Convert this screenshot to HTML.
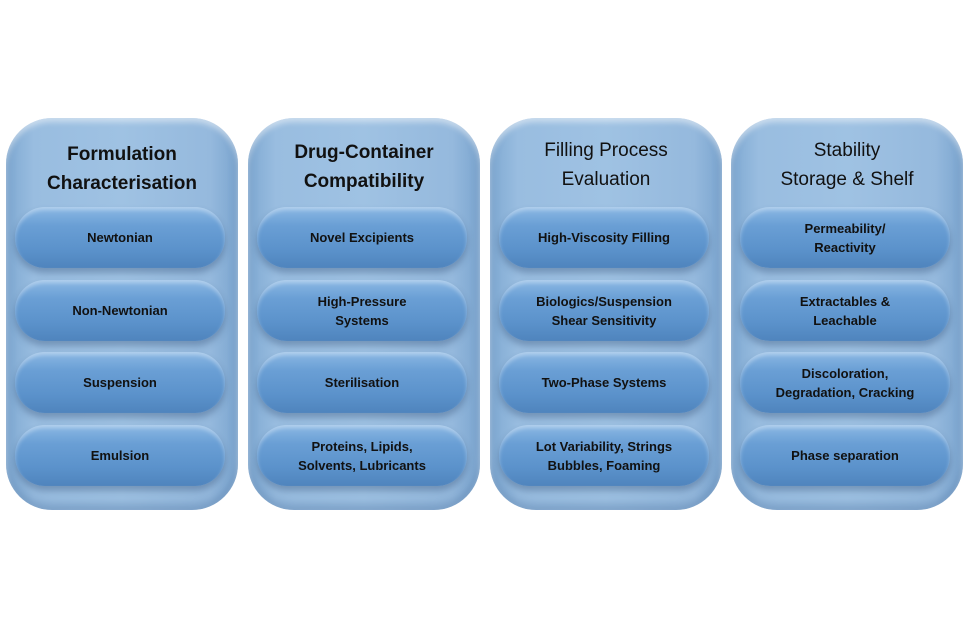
<!DOCTYPE html>
<html><head><style>
body{margin:0;width:974px;height:626px;background:#fff;position:relative;overflow:hidden;font-family:"Liberation Sans",sans-serif}
.col{position:absolute;top:118px;width:232px;height:392px;border-radius:46px;
background:linear-gradient(90deg,#7fa9d2 0%,#99bde0 12%,#9fc2e3 50%,#95b9dd 88%,#7ba5cf 100%);
box-shadow:inset 0 4px 6px rgba(255,255,255,.5),inset 0 -6px 10px rgba(60,100,150,.35)}
.t{position:absolute;top:22px;left:0;width:100%;text-align:center;font-size:19px;font-weight:bold;line-height:29px;color:#111}
.p{position:absolute;left:9px;width:210px;height:61px;border-radius:30px;
background:linear-gradient(180deg,#8bb8e4 0%,#6a9fd5 30%,#5b92cb 70%,#4f84bd 100%);
box-shadow:0 5px 7px rgba(40,70,110,.35),inset 0 3px 4px rgba(255,255,255,.35);
display:flex;align-items:center;justify-content:center;text-align:center;font-size:13px;font-weight:bold;line-height:19px;color:#111}
</style></head><body>
<div class="col" style="left:6px"><div class="t">Formulation<br>Characterisation</div>
<div class="p" style="top:89px">Newtonian</div>
<div class="p" style="top:162px">Non-Newtonian</div>
<div class="p" style="top:234px">Suspension</div>
<div class="p" style="top:307px">Emulsion</div></div>
<div class="col" style="left:248px"><div class="t" style="top:20px">Drug-Container<br>Compatibility</div>
<div class="p" style="top:89px">Novel Excipients</div>
<div class="p" style="top:162px">High-Pressure<br>Systems</div>
<div class="p" style="top:234px">Sterilisation</div>
<div class="p" style="top:307px">Proteins, Lipids,<br>Solvents, Lubricants</div></div>
<div class="col" style="left:490px"><div class="t" style="top:18px;font-weight:normal">Filling Process<br>Evaluation</div>
<div class="p" style="top:89px">High-Viscosity Filling</div>
<div class="p" style="top:162px">Biologics/Suspension<br>Shear Sensitivity</div>
<div class="p" style="top:234px">Two-Phase Systems</div>
<div class="p" style="top:307px">Lot Variability, Strings<br>Bubbles, Foaming</div></div>
<div class="col" style="left:731px"><div class="t" style="top:18px;font-weight:normal">Stability<br>Storage &amp; Shelf</div>
<div class="p" style="top:89px">Permeability/<br>Reactivity</div>
<div class="p" style="top:162px">Extractables &amp;<br>Leachable</div>
<div class="p" style="top:234px">Discoloration,<br>Degradation, Cracking</div>
<div class="p" style="top:307px">Phase separation</div></div>
</body></html>
